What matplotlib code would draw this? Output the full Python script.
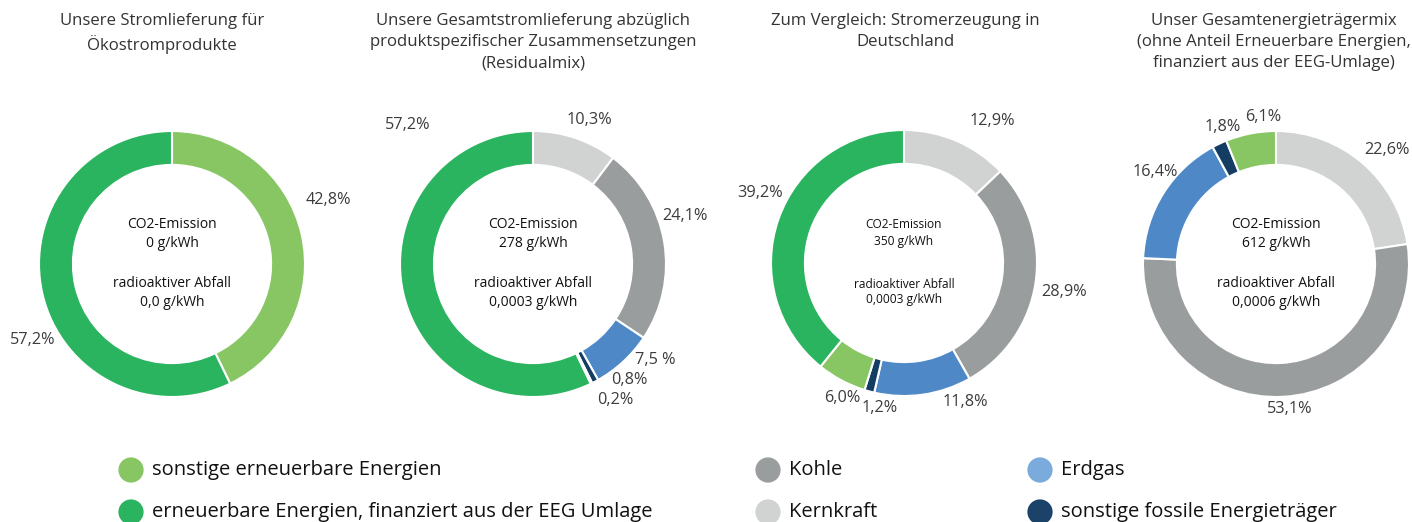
import numpy as np
import matplotlib.pyplot as plt

plt.rcParams['font.family'] = ['Open Sans', 'DejaVu Sans']

W, H = 1412, 522

# Kategorien (Reihenfolge im Uhrzeigersinn ab 12 Uhr)
categories = ["Kernkraft", "Kohle", "Erdgas", "sonstige fossile Energieträger",
              "sonstige erneuerbare Energien",
              "erneuerbare Energien, finanziert aus der EEG Umlage"]
colors = {"Kernkraft": "#d1d3d2", "Kohle": "#9a9d9e", "Erdgas": "#4f88c7",
          "sonstige fossile Energieträger": "#143d63",
          "sonstige erneuerbare Energien": "#88c664",
          "erneuerbare Energien, finanziert aus der EEG Umlage": "#2bb45f"}

titles = ["Unsere Stromlieferung für\nÖkostromprodukte",
          "Unsere Gesamtstromlieferung abzüglich\nproduktspezifischer Zusammensetzungen\n(Residualmix)",
          "Zum Vergleich: Stromerzeugung in\nDeutschland",
          "Unser Gesamtenergieträgermix\n(ohne Anteil Erneuerbare Energien,\nfinanziert aus der EEG-Umlage)"]

oeko = [0.0, 0.0, 0.0, 0.0, 42.8, 57.2]
residual = [10.3, 24.1, 7.5, 0.8, 0.2, 57.2]
deutschland = [12.9, 28.9, 11.8, 1.2, 6.0, 39.2]
gesamt = [22.6, 53.1, 16.4, 1.8, 6.1, 0.0]

label_oeko = ["", "", "", "", "42,8%", "57,2%"]
label_residual = ["10,3%", "24,1%", "7,5 %", "0,8%", "0,2%", "57,2%"]
label_deutschland = ["12,9%", "28,9%", "11,8%", "1,2%", "6,0%", "39,2%"]
label_gesamt = ["22,6%", "53,1%", "16,4%", "1,8%", "6,1%", ""]

co2 = ["0 g/kWh", "278 g/kWh", "350 g/kWh", "612 g/kWh"]
abfall = ["0,0 g/kWh", "0,0003 g/kWh", "0,0003 g/kWh", "0,0006 g/kWh"]

series = [oeko, residual, deutschland, gesamt]
labels = [label_oeko, label_residual, label_deutschland, label_gesamt]

# Layout (Pixel)
centers = [(172, 264), (533, 264), (904, 263), (1276, 264)]
R = 133
title_x = [162, 533, 905, 1274]
label_pos = [
    [None, None, None, None, (328, 200), (33, 340)],
    [(589, 120), (685, 216), (655, 360), (629, 380), (615, 400), (408, 125)],
    [(992, 121), (1064, 292), (965, 402), (880, 408), (842, 398), (760, 193)],
    [(1387, 150), (1290, 409), (1155, 172), (1223, 127), (1263, 117), None],
]

fig = plt.figure(figsize=(W / 100, H / 100), dpi=100)


def fx(x):
    return x / W


def fy(y):
    return 1 - y / H


for i, (vals, labs) in enumerate(zip(series, labels)):
    cx, cy = centers[i]
    ax = fig.add_axes([fx(cx - R), fy(cy + R), 2 * R / W, 2 * R / H])
    ax.axis("off")
    keep = [k for k, v in enumerate(vals) if v > 0]
    ax.pie([vals[k] for k in keep], colors=[colors[categories[k]] for k in keep],
           startangle=90, counterclock=False, radius=1,
           wedgeprops=dict(width=0.255, edgecolor="white", linewidth=1.5))
    ax.set_xlim(-1, 1)
    ax.set_ylim(-1, 1)
    ax.set_aspect("auto")

    fig.text(fx(title_x[i]), fy(13), titles[i], ha="center", va="top",
             fontsize=12.1, color="#333333", linespacing=1.42)

    csize = 8.6 if i == 2 else 10
    fig.text(fx(cx), fy(cy - 30), "CO2-Emission\n" + co2[i], ha="center",
             va="center", fontsize=csize, color="#111111", linespacing=1.3)
    fig.text(fx(cx), fy(cy + 29), "radioaktiver Abfall\n" + abfall[i],
             ha="center", va="center", fontsize=csize, color="#111111",
             linespacing=1.3)

    for lab, pos in zip(labs, label_pos[i]):
        if lab and pos is not None:
            fig.text(fx(pos[0]), fy(pos[1]), lab, ha="center", va="center",
                     fontsize=11.7, color="#3c3c3c")

# Legende
leg_items = [("sonstige erneuerbare Energien", "#88c664", 131, 470),
             ("erneuerbare Energien, finanziert aus der EEG Umlage", "#2bb45f", 131, 512),
             ("Kohle", "#9a9d9e", 768, 470),
             ("Kernkraft", "#d1d3d2", 768, 512),
             ("Erdgas", "#7aabdc", 1040, 470),
             ("sonstige fossile Energieträger", "#1b4268", 1040, 512)]
lax = fig.add_axes([0, 0, 1, 1], zorder=-1)
lax.set_xlim(0, W)
lax.set_ylim(H, 0)
lax.axis("off")
for text, col, x, y in leg_items:
    lax.scatter([x], [y], s=330, color=col, edgecolors="none")
    lax.text(x + 21, y, text, va="center", ha="left", fontsize=14.5,
             color="#111111")

fig.savefig("out.png", dpi=100)
